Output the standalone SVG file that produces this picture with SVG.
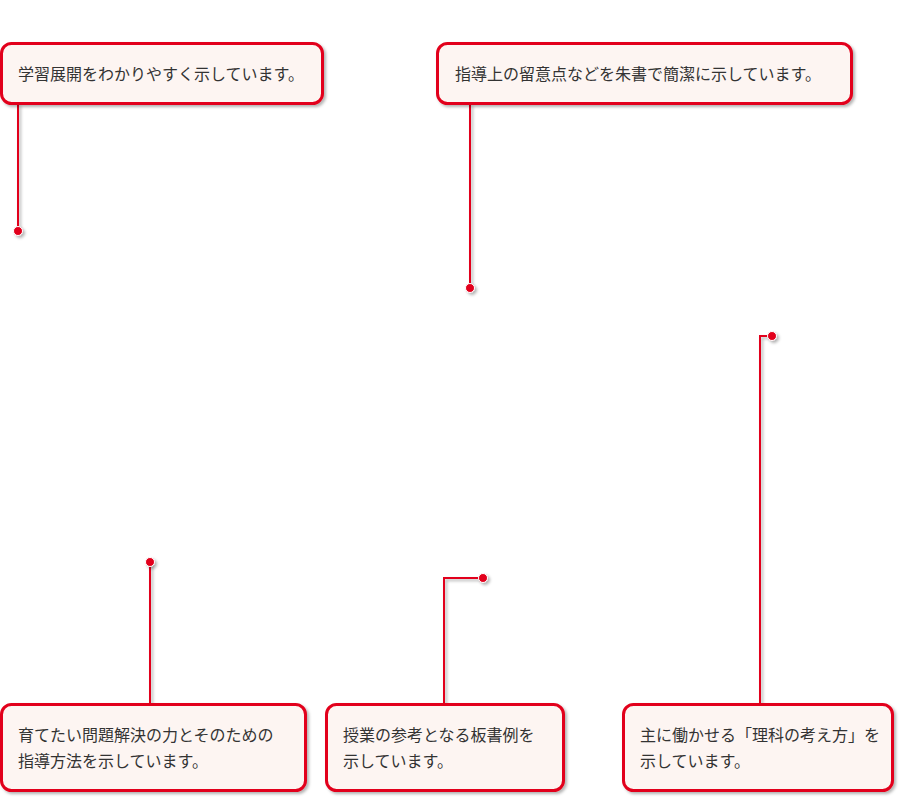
<svg xmlns="http://www.w3.org/2000/svg" width="909" height="800" viewBox="0 0 909 800">
<defs>
<filter id="sh" filterUnits="userSpaceOnUse" x="0" y="0" width="909" height="800"><feDropShadow dx="2" dy="2" stdDeviation="1.5" flood-color="#000" flood-opacity="0.3"/></filter>
<style>
.box{fill:#fdf5f2;stroke:#e2001a;stroke-width:3;filter:url(#sh)}
.ln{fill:none;stroke:#e2001a;stroke-width:2;filter:url(#sh)}
.dot{fill:#e2001a;stroke:#fff;stroke-width:1;filter:url(#sh)}
text{font-family:"Noto Sans CJK JP",sans-serif;font-size:16px;fill:#333}
</style>
</defs>
<rect width="909" height="800" fill="#fff"/>
<g id="connectors">
<path class="ln" d="M18 104V231"/><circle class="dot" cx="18" cy="231" r="4.5"/>
<path class="ln" d="M470 104V288"/><circle class="dot" cx="470" cy="288" r="4.5"/>
<path class="ln" d="M150 704V562"/><circle class="dot" cx="150" cy="562" r="4.5"/>
<path class="ln" d="M444 704V578H483"/><circle class="dot" cx="483" cy="578" r="4.5"/>
<path class="ln" d="M760 704V336H772"/><circle class="dot" cx="772" cy="336" r="4.5"/>
</g>
<g id="n1"><rect class="box" x="1.5" y="43.5" width="321" height="60" rx="10"/><text x="18" y="80">学習展開をわかりやすく示しています。</text></g>
<g id="n2"><rect class="box" x="437.5" y="43.5" width="414" height="60" rx="10"/><text x="455" y="80">指導上の留意点などを朱書で簡潔に示しています。</text></g>
<g id="n3"><rect class="box" x="1.5" y="704.5" width="304" height="86" rx="10"/><text x="18" y="741">育てたい問題解決の力とそのための</text><text x="18" y="767">指導方法を示しています。</text></g>
<g id="n4"><rect class="box" x="326.5" y="704.5" width="237" height="86" rx="10"/><text x="343" y="741">授業の参考となる板書例を</text><text x="343" y="767">示しています。</text></g>
<g id="n5"><rect class="box" x="623.5" y="704.5" width="269" height="86" rx="10"/><text x="640" y="741">主に働かせる「理科の考え方」を</text><text x="640" y="767">示しています。</text></g>
</svg>
